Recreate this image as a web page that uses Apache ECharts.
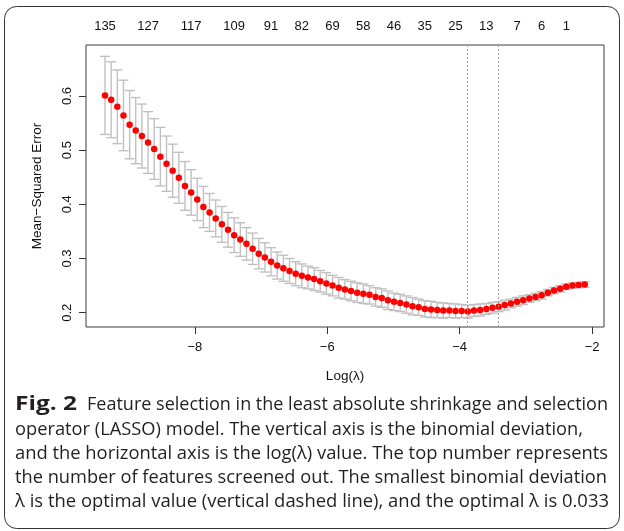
<!DOCTYPE html>
<html><head><meta charset="utf-8">
<script src="https://cdn.jsdelivr.net/npm/echarts@6/dist/echarts.min.js"></script>
<style>html,body{margin:0;padding:0;background:#fff;} #c{width:624px;height:531px;}</style>
</head><body><div id="c"></div>
<script>
// log(lambda) grid of the cross-validation path
const logLambda = [-9.357,-9.264,-9.171,-9.078,-8.985,-8.893,-8.800,-8.707,-8.614,-8.521,
  -8.428,-8.335,-8.242,-8.149,-8.056,-7.964,-7.871,-7.778,-7.685,-7.592,
  -7.499,-7.406,-7.313,-7.220,-7.127,-7.035,-6.942,-6.849,-6.756,-6.663,
  -6.570,-6.477,-6.384,-6.291,-6.198,-6.106,-6.013,-5.920,-5.827,-5.734,
  -5.641,-5.548,-5.455,-5.362,-5.269,-5.177,-5.084,-4.991,-4.898,-4.805,
  -4.712,-4.619,-4.526,-4.433,-4.340,-4.248,-4.155,-4.062,-3.969,-3.876,
  -3.783,-3.690,-3.597,-3.504,-3.411,-3.319,-3.226,-3.133,-3.040,-2.947,
  -2.854,-2.761,-2.668,-2.575,-2.482,-2.390,-2.297,-2.204,-2.111];
// mean cross-validated error
const cvMean = [0.601,0.593,0.580,0.564,0.547,0.536,0.526,0.514,0.502,0.488,
  0.475,0.462,0.449,0.434,0.422,0.409,0.395,0.385,0.374,0.363,
  0.353,0.343,0.335,0.327,0.318,0.309,0.302,0.294,0.287,0.282,
  0.277,0.272,0.268,0.265,0.262,0.258,0.254,0.250,0.246,0.243,
  0.240,0.237,0.235,0.233,0.229,0.227,0.223,0.220,0.218,0.215,
  0.212,0.210,0.207,0.206,0.205,0.204,0.204,0.203,0.203,0.202,
  0.204,0.205,0.207,0.209,0.211,0.214,0.217,0.220,0.223,0.226,
  0.229,0.232,0.237,0.241,0.244,0.248,0.250,0.251,0.252];
// standard error of the cross-validated error
const cvSE = [0.072,0.070,0.068,0.065,0.063,0.061,0.059,0.057,0.056,0.054,
  0.051,0.049,0.047,0.045,0.042,0.039,0.038,0.035,0.034,0.033,
  0.032,0.032,0.031,0.030,0.029,0.028,0.027,0.026,0.025,0.024,
  0.023,0.022,0.022,0.021,0.021,0.020,0.020,0.019,0.019,0.018,
  0.018,0.018,0.018,0.017,0.017,0.017,0.017,0.016,0.016,0.016,
  0.016,0.015,0.015,0.015,0.014,0.014,0.013,0.013,0.012,0.012,
  0.011,0.011,0.010,0.010,0.009,0.009,0.008,0.008,0.008,0.007,
  0.007,0.007,0.006,0.006,0.006,0.005,0.005,0.005,0.005];
// top axis: number of non-zero features, shown at these lambda indices
const nzIndex = [0,7,14,21,27,32,37,42,47,52,57,62,67,71,75];
const nzLabels = ['135','127','117','109','91','82','69','58','46','35','25','13','7','6','1'];
const xTicks = [-8,-6,-4,-2];
const yTicks = [0.2,0.3,0.4,0.5,0.6];
const vLines = [-3.876, -3.411];
const xLabel = 'Log(λ)';
const yLabel = 'Mean\u2212Squared Error';
const captionBold = 'Fig. 2';
const captionLines = [
  'Feature selection in the least absolute shrinkage and selection',
  'operator (LASSO) model. The vertical axis is the binomial deviation,',
  'and the horizontal axis is the log(λ) value. The top number represents',
  'the number of features screened out. The smallest binomial deviation',
  'λ is the optimal value (vertical dashed line), and the optimal λ is 0.033'
];

const X_MIN = -9.644, X_MAX = -1.82, Y_MIN = 0.1736, Y_MAX = 0.694;
const chartFont = '"Liberation Sans", Arial, sans-serif';
const capFont = '"Open Sans", sans-serif';

const cnv = document.createElement('canvas').getContext('2d');
function measure(text, font){ cnv.font = font; return cnv.measureText(text).width; }

const capSize = 19;
const capNormal = capSize + 'px ' + capFont;
const capBoldF = 'bold ' + capSize + 'px ' + capFont;
const lineY = [405, 429.5, 454, 478, 502];
const lineStart = [87, 15, 15, 15, 15];
const lineEnd = [608, 583, 608, 607, 609];
const graphics = [
  { type: 'rect', shape: { x: 4.5, y: 6.5, width: 615, height: 522, r: 12 },
    style: { fill: 'none', stroke: '#333', lineWidth: 1 }, silent: true }
];
{
  const w = measure(captionBold, capBoldF);
  graphics.push({ type: 'text', x: 15, y: lineY[0], scaleX: 62 / w, originX: 0,
    style: { text: captionBold, font: capBoldF, fill: '#231f20', verticalAlign: 'middle', align: 'left' } });
}
captionLines.forEach((t, i) => {
  const w = measure(t, capNormal);
  graphics.push({ type: 'text', x: lineStart[i], y: lineY[i], scaleX: (lineEnd[i] - lineStart[i]) / w, originX: 0,
    style: { text: t, font: capNormal, fill: '#231f20', verticalAlign: 'middle', align: 'left' } });
});

const nzPos = nzIndex.map(i => logLambda[i]);
const errData = logLambda.map((x, i) => [x, cvMean[i], cvSE[i]]);
const ptData = logLambda.map((x, i) => [x, cvMean[i]]);
const minus = s => String(s).replace('-', '\u2212');

const chart = echarts.init(document.getElementById('c'));
chart.setOption({
  animation: false,
  backgroundColor: '#fff',
  textStyle: { fontFamily: chartFont },
  grid: { left: 86, top: 45, right: 20, bottom: 204, show: true, borderColor: '#3a3a3a', borderWidth: 1, backgroundColor: 'transparent' },
  xAxis: [{
    type: 'value', min: X_MIN, max: X_MAX, position: 'bottom',
    splitLine: { show: false }, axisLine: { show: false },
    axisTick: { show: true, customValues: xTicks, length: 7, inside: false, lineStyle: { color: '#333' } },
    axisLabel: { customValues: xTicks, formatter: v => minus(v), color: '#111', fontSize: 13, margin: 14, fontFamily: chartFont },
    name: xLabel, nameLocation: 'middle', nameGap: 42, nameTextStyle: { fontSize: 13.5, color: '#111', fontFamily: chartFont }
  }, {
    type: 'value', min: X_MIN, max: X_MAX, position: 'top',
    splitLine: { show: false }, axisLine: { show: false }, axisTick: { show: false },
    axisLabel: { customValues: nzPos, margin: 12, color: '#111', fontSize: 13, fontFamily: chartFont,
      formatter: v => { let b = 0; nzPos.forEach((p, k) => { if (Math.abs(p - v) < Math.abs(nzPos[b] - v)) b = k; }); return nzLabels[b]; } }
  }],
  yAxis: {
    type: 'value', min: Y_MIN, max: Y_MAX,
    splitLine: { show: false }, axisLine: { show: false },
    axisTick: { show: true, customValues: yTicks, length: 7, lineStyle: { color: '#333' } },
    axisLabel: { customValues: yTicks, formatter: v => v.toFixed(1), rotate: 90, color: '#111', fontSize: 13, margin: 12, fontFamily: chartFont },
    name: yLabel, nameLocation: 'middle', nameRotate: 90, nameGap: 42,
    nameTextStyle: { fontSize: 13.5, color: '#111', fontFamily: chartFont }
  },
  graphic: graphics,
  series: [{
    type: 'custom', xAxisIndex: 0, data: errData, encode: { x: 0, y: 1 }, clip: false, z: 2,
    renderItem: (params, api) => {
      const x = api.value(0), m = api.value(1), s = api.value(2);
      const top = api.coord([x, m + s]), bot = api.coord([x, m - s]);
      const st = { stroke: '#c0c0c0', lineWidth: 1.4 };
      return { type: 'group', children: [
        { type: 'line', shape: { x1: top[0], y1: top[1], x2: bot[0], y2: bot[1] }, style: st },
        { type: 'line', shape: { x1: top[0] - 5, y1: top[1], x2: top[0] + 5, y2: top[1] }, style: st },
        { type: 'line', shape: { x1: bot[0] - 5, y1: bot[1], x2: bot[0] + 5, y2: bot[1] }, style: st }
      ] };
    }
  }, {
    type: 'scatter', xAxisIndex: 0, data: ptData, symbol: 'circle', symbolSize: 6.5, z: 3,
    itemStyle: { color: '#ff0000', opacity: 1 },
    markLine: { silent: true, symbol: 'none', label: { show: false },
      lineStyle: { type: [2, 2], color: '#a0a0a0', width: 1 },
      data: vLines.map(v => ({ xAxis: v })) }
  }]
});
</script></body></html>
